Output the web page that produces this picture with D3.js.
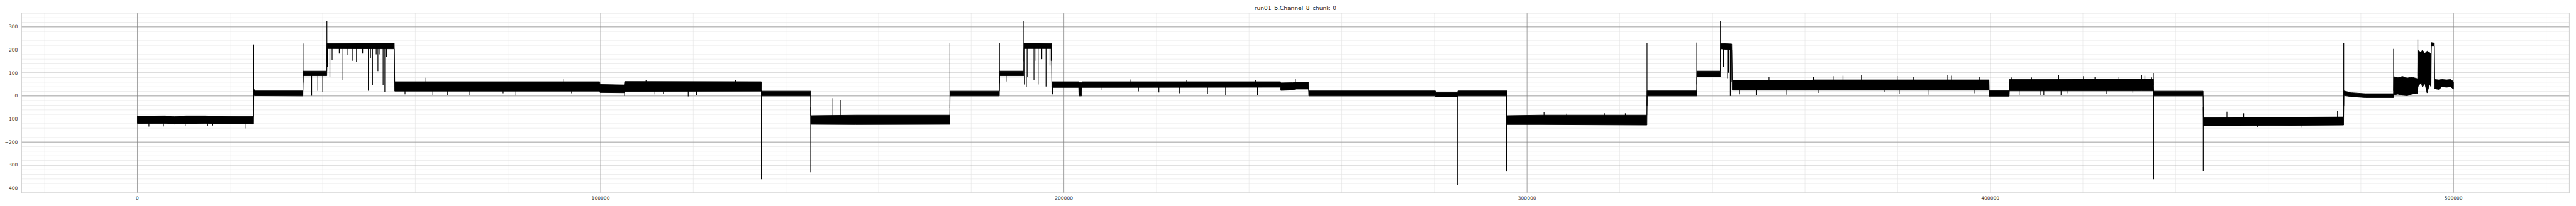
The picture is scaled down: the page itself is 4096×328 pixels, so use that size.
<!DOCTYPE html>
<html><head><meta charset="utf-8">
<script src="https://cdn.jsdelivr.net/npm/d3@7/dist/d3.min.js"></script>
<style>html,body{margin:0;padding:0;background:#fff;overflow:hidden}</style>
</head><body>
<svg id="c" width="4096" height="328" viewBox="0 0 5400 432" preserveAspectRatio="none"></svg>
<script>
const chartTitle = "run01_b.Channel_8_chunk_0";
const xTicks = [0, 100000, 200000, 300000, 400000, 500000];
const yTicks = [-400, -300, -200, -100, 0, 100, 200, 300];
const xDomain = [-25000, 525000];
const yDomain = [-420.4, 360.3];
// dense band of the signal: [sample index, upper value, lower value]
const band = [
[0,-87,-119],[6000,-86,-120],[8000,-89,-122],[10400,-86,-121],[14600,-86,-120],[18000,-88,-121],[25080,-89,-122],
[25130,30,2],[25400,22,1],[35720,22,0],
[35770,108,88],[40880,108,88],
[40930,228,206],[55450,229,205],
[55550,62,21],[99800,62,21],[99860,50,15],[105100,48,14],[105180,63,20],[134680,62,21],
[134720,21,0],[145320,21,0],
[145360,-85,-123],[155000,-83,-124],[175380,-83,-123],
[175430,21,0],[186070,21,0],
[186120,108,88],[191340,108,88],
[191390,229,206],[197350,228,206],
[197400,62,37],[203200,62,37],[203250,58,0],[203800,58,0],[203865,62,37],[246800,62,38],[246850,57,24],[249404,58,26],[250100,60,30],[252840,60,30],
[252890,22,0],[280200,22,0],[280260,15,-4],[285000,15,-4],[285060,22,0],[295630,22,0],
[295700,-85,-124],[303000,-83,-124],[325880,-83,-126],
[325930,22,0],[336630,22,0],
[336680,108,84],[341740,108,84],
[341790,228,205],[344200,226,200],
[344300,68,25],[361000,68,25],[361900,70,25],[399720,70,25],
[399770,23,-1],[404080,23,-1],
[404130,72,22],[432700,74,22],[435230,74,22],
[435280,21,0],[445950,21,0],
[446000,-94,-129],[460000,-93,-128],[467000,-92,-127],[476270,-91,-126],
[476320,22,2],[478000,14,-3],[481000,10,-7],[487040,10,-7],
[487100,84,5],[488000,80,8],[489000,85,3],[490000,78,1],[491000,82,8],[492260,75,12],
[492320,198,40],[493000,190,60],[493300,200,38],[493800,185,55],[494300,195,13],[494800,190,50],[495150,180,40],
[495220,232,216],[495860,230,216],
[495930,72,32],[496800,70,28],[497500,72,40],[498500,70,38],[499400,72,40],[500000,62,30]
];
// single-sample spikes: [sample index, value]
const spikes = [
[2500,-133],[5635,-132],[10424,-130],[15105,-131],[16169,-128],[23245,-141],
[25107,224],[35747,228],[37609,1],[38939,22],[40003,17],[40900,325],
[40990,126],[41067,126],[41545,84],[42024,155],[43567,184],[44365,70],[45429,177],[46493,153],[47291,148],[48621,184],[49845,23],[50323,164],
[50749,46],[51547,181],[51919,108],[52345,181],[53037,46],[53409,17],[53782,170],
[57771,7],[62293,79],[63783,5],[66975,5],[71603,3.5],[78945,12],[81711,1.5],[92035,76],[93737,12],[105175,0],[109803,68],[111719,7],[113581,9],
[118901,-2],[120710,3.5],[129115,68],
[134700,-361],[145341,-331],[150129,-9],[151725,-18],
[175402,229],[186096,229],[187532,63],[191362,327],
[191450,50],[191522,50],[191895,40],[192160,84],[193544,70],[193757,153],[194448,50],[195246,160],[196150,41],[197001,132],[197267,153],
[197533,7],[208014,24],[214291,72],[216100,20],[220516,15],[224932,12],[226528,68],[230996,10],[234933,5],[241370,70],[241796,3.5],[250042,76],
[284942,-385],[295582,-328],
[303668,-71],[308563,-76],[316702,-75],[321224,-75],
[325906,231],[336653,232],[341761,326],
[342399,126],[343303,77],[343500,101],[343889,0],[344100,60],
[345857,7],[349475,3],[352241,84],[356071,6],[361817,84],[362987,13],[366073,86],[368201,88],[372191,90],[377245,16],[379905,87],[380331,10],
[383363,84],[386555,6],[390811,90],[391609,88],[396663,12],[397621,84],
[404643,81],[406239,3],[408899,81],[410761,3],[411559,3],[414751,90],[415283,3],[416782,12],[420121,86],[422599,84],[425022,8],[427553,83],
[430785,14],[432670,90],[433370,88],[434825,81],[435202,98],
[435256,-361],[445974,-326],
[451090,-68],[454698,-75],[457715,-137],[467302,-138],[474950,-66],
[476297,231],[487069,205],[492294,246]
];

const L = 45.3, R = 5386, T = 27.3, B = 404.3;
const x = d3.scaleLinear().domain(xDomain).range([L, R]);
const y = d3.scaleLinear().domain(yDomain).range([B, T]);
const svg = d3.select("#c");
svg.append("rect").attr("width", 5400).attr("height", 432).attr("fill", "#fff");

const g = svg.append("g");
const xMinor = d3.range(-20000, 525001, 20000);
const yMinor = d3.range(-420, 361, 20);
g.selectAll(".mx").data(xMinor).join("line")
  .attr("x1", d => x(d)).attr("x2", d => x(d)).attr("y1", T).attr("y2", B)
  .attr("stroke", "#e3e3e3").attr("stroke-width", 0.8);
g.selectAll(".my").data(yMinor).join("line")
  .attr("y1", d => y(d)).attr("y2", d => y(d)).attr("x1", L).attr("x2", R)
  .attr("stroke", "#e3e3e3").attr("stroke-width", 0.8);
g.selectAll(".Mx").data(xTicks).join("line")
  .attr("x1", d => x(d)).attr("x2", d => x(d)).attr("y1", T).attr("y2", B)
  .attr("stroke", "#808080").attr("stroke-width", 0.9);
g.selectAll(".My").data(yTicks).join("line")
  .attr("y1", d => y(d)).attr("y2", d => y(d)).attr("x1", L).attr("x2", R)
  .attr("stroke", "#808080").attr("stroke-width", 0.9);

const area = d3.area().x(d => x(d[0])).y0(d => y(d[2])).y1(d => y(d[1]));
svg.append("path").datum(band).attr("d", area)
  .attr("fill", "#000").attr("stroke", "#000").attr("stroke-width", 1.2).attr("stroke-linejoin", "round");

const bis = d3.bisector(d => d[0]).left;
function centreAt(v) {
  const i = Math.max(1, Math.min(band.length - 1, bis(band, v)));
  const a = band[i - 1], b = band[i];
  const t = (v - a[0]) / (b[0] - a[0]);
  return ((a[1] + a[2]) / 2) * (1 - t) + ((b[1] + b[2]) / 2) * t;
}
svg.selectAll(".sp").data(spikes).join("line")
  .attr("x1", d => x(d[0])).attr("x2", d => x(d[0]))
  .attr("y1", d => y(centreAt(d[0]))).attr("y2", d => y(d[1]))
  .attr("stroke", "#000").attr("stroke-width", 1.6).attr("stroke-linecap", "butt");

svg.append("rect").attr("x", L).attr("y", T).attr("width", R - L).attr("height", B - T)
  .attr("fill", "none").attr("stroke", "#cccccc").attr("stroke-width", 1.2);

const fmtY = d => (d < 0 ? "\u2212" + Math.abs(d) : String(d));
svg.selectAll(".yl").data(yTicks).join("text")
  .attr("x", 37.5).attr("y", d => y(d)).attr("dy", "0.35em")
  .attr("text-anchor", "end").attr("font-family", "DejaVu Sans").attr("font-size", 10)
  .attr("fill", "#333").text(fmtY);
svg.selectAll(".xl").data(xTicks).join("text")
  .attr("x", d => x(d)).attr("y", 419.3)
  .attr("text-anchor", "middle").attr("font-family", "DejaVu Sans").attr("font-size", 10)
  .attr("fill", "#333").text(d => String(d));
svg.append("text").attr("x", (L + R) / 2).attr("y", 21.5).attr("text-anchor", "middle")
  .attr("font-family", "DejaVu Sans").attr("font-size", 12).attr("fill", "#262626").text(chartTitle);
</script>
</body></html>
